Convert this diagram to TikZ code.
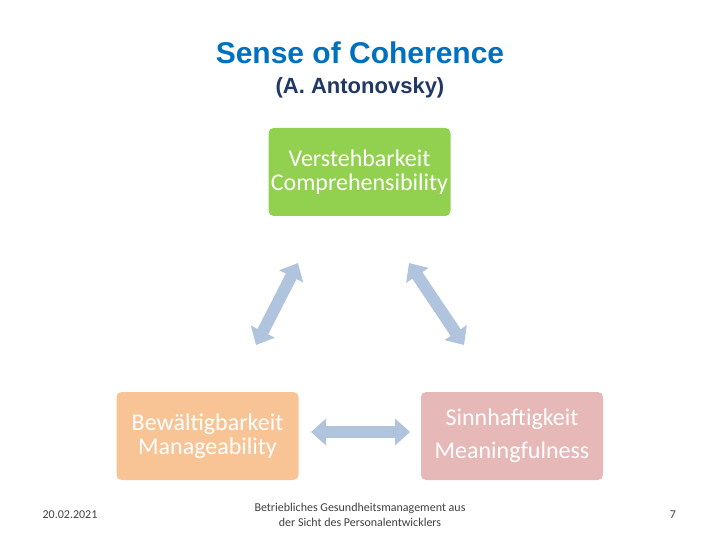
\documentclass[tikz,border=0pt]{standalone}
\usepackage{fontspec}
\setmainfont{Carlito}
\newfontfamily\titlefont{Liberation Sans}
\usetikzlibrary{arrows.meta}
\definecolor{tblue}{RGB}{0,112,192}
\definecolor{tdark}{RGB}{31,56,100}
\definecolor{bgreen}{RGB}{146,208,80}
\definecolor{borange}{RGB}{248,196,150}
\definecolor{bpink}{RGB}{230,184,183}
\definecolor{arr}{RGB}{176,196,222}
\begin{document}
\begin{tikzpicture}[x=1pt,y=-1pt,
  box/.style={rounded corners=5pt,text=white,align=center,minimum width=182pt,minimum height=88pt,inner sep=0pt,font=\fontsize{24}{24}\selectfont},
  barr/.style={arr,line width=12pt,{Triangle[width=26pt,length=15pt]}-{Triangle[width=26pt,length=15pt]}},
  foot/.style={text=black!75,font=\fontsize{12}{15}\selectfont,align=center}]
\useasboundingbox (0,0) rectangle (720,540);
\fill[white] (0,0) rectangle (720,540);
\node[text=tblue,font=\titlefont\bfseries\fontsize{30}{34}\selectfont] (t1) at (360,53) {Sense of Coherence};
\node[text=tdark,font=\titlefont\bfseries\fontsize{22}{24}\selectfont] (t2) at (360,88) {(A. Antonovsky)};
\node[box,fill=bgreen] (g) at (359.5,172) {Verstehbarkeit\\Comprehensibility};
\node[box,fill=borange] (o) at (207.5,436) {Bewältigbarkeit\\Manageability};
\node[box,fill=bpink,font=\fontsize{24}{33}\selectfont] (p) at (512,436) {Sinnhaftigkeit\\Meaningfulness};
\coordinate (a1) at (256,345); \coordinate (a2) at (298,263);
\coordinate (b1) at (409,263); \coordinate (b2) at (464,345);
\coordinate (c1) at (311,432); \coordinate (c2) at (410,432);
\draw[barr] (a1) -- (a2);
\draw[barr] (b1) -- (b2);
\draw[barr] (c1) -- (c2);
\node[foot] (d) at (70,515) {20.02.2021};
\node[foot] (m) at (360,515) {Betriebliches Gesundheitsmanagement aus\\der Sicht des Personalentwicklers};
\node[foot] (n) at (673,515) {7};
\end{tikzpicture}
\end{document}
